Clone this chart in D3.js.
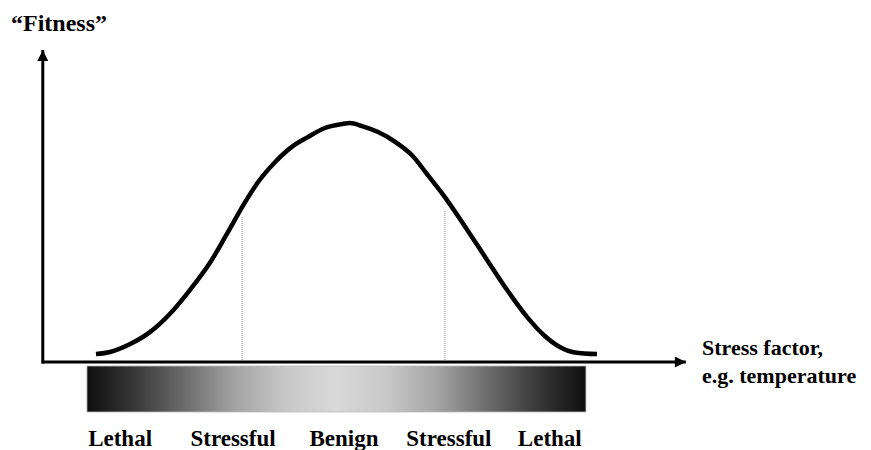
<!DOCTYPE html>
<html>
<head>
  <title>Fitness vs stress</title>
  <script src="https://d3js.org/d3.v7.min.js"></script>
  <style>
    body { margin: 0; background: #fff; }
    .lbl {
      font-family: "Liberation Serif", "Times New Roman", serif;
      font-weight: bold;
      fill: #000;
    }
  </style>
</head>
<body>
  <svg id="chart"></svg>
  <script>
    // curve data (stress units 0-100, fitness 0-100)
    const stress  = [0, 2.8, 6.8, 10.8, 14.7, 18.7, 22.7, 26.3, 29.7, 32.3, 35.7, 39.0, 42.2, 45.6, 49.0, 50.6,
                     53.0, 56.2, 59.6, 62.9, 66.1, 69.5, 72.9, 77.9, 81.9, 85.9, 89.4, 92.4, 95.4, 99.8];
    const fitness = [3.3, 4.2, 7.5, 12.6, 20.1, 30.1, 41.5, 54.4, 66.9, 75.3, 83.7, 90.0, 94.1, 97.9, 99.6, 100,
                     98.7, 96.2, 92.1, 86.6, 78.2, 69.0, 58.6, 42.7, 30.1, 18.8, 10.9, 6.3, 4.0, 3.3];

    // dotted markers between zones
    const markX   = [29.1, 69.5];
    const markTop = [60.7, 63.2];

    // zone labels under the bar
    const zones   = ["Lethal", "Stressful", "Benign", "Stressful", "Lethal"];
    const zoneX   = [4.8, 27.3, 49.4, 70.3, 90.4];

    // gradient bar
    const barRange = [-1.8, 97.6];
    const gradOffsets = [0, 0.1, 0.2, 0.3, 0.4, 0.5, 0.6, 0.7, 0.8, 0.9, 1];
    const gradColors  = ["#0e0e0e", "#3a3a3a", "#6e6e6e", "#a5a5a5", "#c8c8c8", "#d9d9d9",
                         "#c8c8c8", "#a5a5a5", "#6e6e6e", "#3a3a3a", "#0e0e0e"];

    const xAxisRange = [-10.8, 117.5];
    const yAxisRange = [0, 130.5];

    const W = 871, H = 450;
    const svg = d3.select("#chart").attr("width", W).attr("height", H);

    const x = d3.scaleLinear().domain([0, 100]).range([96, 598]);
    const y = d3.scaleLinear().domain([0, 100]).range([362, 123]);

    // arrow heads
    const defs = svg.append("defs");
    defs.append("marker")
        .attr("id", "arrow")
        .attr("viewBox", "0 0 10 10")
        .attr("refX", 10).attr("refY", 5)
        .attr("markerWidth", 12).attr("markerHeight", 11)
        .attr("markerUnits", "userSpaceOnUse")
        .attr("orient", "auto")
      .append("path")
        .attr("d", "M0,0 L10,5 L0,10 Z")
        .attr("fill", "#000");

    const grad = defs.append("linearGradient").attr("id", "stressGrad");
    grad.selectAll("stop")
      .data(gradOffsets)
      .enter().append("stop")
        .attr("offset", d => d)
        .attr("stop-color", (d, i) => gradColors[i]);

    // gradient bar
    svg.append("rect")
      .attr("x", x(barRange[0]))
      .attr("y", 366)
      .attr("width", x(barRange[1]) - x(barRange[0]))
      .attr("height", 46)
      .attr("fill", "url(#stressGrad)")
      .attr("stroke", "#bbb")
      .attr("stroke-width", 0.8);

    // dotted vertical markers
    svg.selectAll(".mark")
      .data(markX)
      .enter().append("line")
        .attr("class", "mark")
        .attr("x1", d => x(d)).attr("x2", d => x(d))
        .attr("y1", (d, i) => y(markTop[i]))
        .attr("y2", y(0))
        .attr("stroke", "#999")
        .attr("stroke-width", 1.2)
        .attr("stroke-dasharray", "1,1");

    // axes
    svg.append("line")
      .attr("x1", x(xAxisRange[0])).attr("x2", x(xAxisRange[1]))
      .attr("y1", y(0)).attr("y2", y(0))
      .attr("stroke", "#000").attr("stroke-width", 3)
      .attr("marker-end", "url(#arrow)");
    svg.append("line")
      .attr("x1", x(xAxisRange[0]) + 1).attr("x2", x(xAxisRange[0]) + 1)
      .attr("y1", y(yAxisRange[0]) + 1.5).attr("y2", y(yAxisRange[1]))
      .attr("stroke", "#000").attr("stroke-width", 3)
      .attr("marker-end", "url(#arrow)");

    // fitness curve
    const line = d3.line()
      .x((d, i) => x(stress[i]))
      .y(d => y(d))
      .curve(d3.curveMonotoneX);
    svg.append("path")
      .attr("d", line(fitness))
      .attr("fill", "none")
      .attr("stroke", "#000")
      .attr("stroke-width", 4.5);

    // texts
    svg.append("text")
      .attr("class", "lbl")
      .attr("x", 11).attr("y", 31)
      .style("font-size", "24px")
      .text("\u201cFitness\u201d");

    const xl = svg.append("text")
      .attr("class", "lbl")
      .attr("x", 702).attr("y", 355)
      .style("font-size", "22px");
    xl.append("tspan").attr("x", 702).text("Stress factor,");
    xl.append("tspan").attr("x", 702).attr("dy", 28).text("e.g. temperature");

    svg.selectAll(".zone")
      .data(zones)
      .enter().append("text")
        .attr("class", "lbl zone")
        .attr("x", (d, i) => x(zoneX[i]))
        .attr("y", 446)
        .attr("text-anchor", "middle")
        .style("font-size", "23px")
        .text(d => d);
  </script>
</body>
</html>
